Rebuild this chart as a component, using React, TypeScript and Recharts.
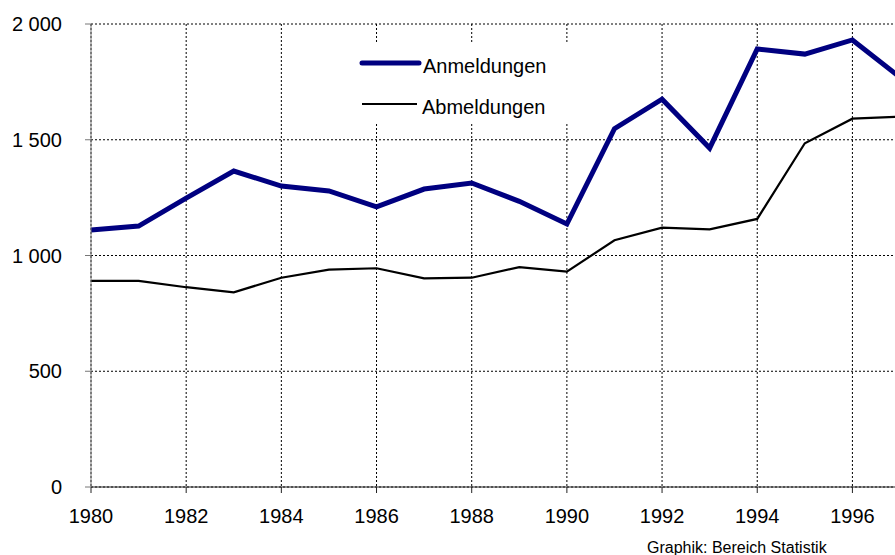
import { LineChart, Line, XAxis, YAxis, CartesianGrid } from 'recharts'

const years = [1980, 1981, 1982, 1983, 1984, 1985, 1986, 1987, 1988, 1989, 1990, 1991, 1992, 1993, 1994, 1995, 1996, 1997]
const anmeldungen = [1110, 1127, 1248, 1365, 1300, 1279, 1210, 1287, 1313, 1234, 1136, 1548, 1675, 1464, 1892, 1870, 1931, 1770]
const abmeldungen = [890, 890, 863, 841, 904, 939, 945, 901, 904, 950, 930, 1066, 1120, 1113, 1158, 1485, 1591, 1600]
const xTicks = [1980, 1982, 1984, 1986, 1988, 1990, 1992, 1994, 1996]
const yTicks = [0, 500, 1000, 1500, 2000]

const FONT = '"Liberation Sans", Arial, sans-serif'
const NAVY = '#000080'

const data = years.map((year, i) => ({
  year,
  anmeldungen: anmeldungen[i],
  abmeldungen: abmeldungen[i]
}))

// space as thousands separator, like "1 500"
const fmt = (v: number) => String(v).replace(/\B(?=(\d{3})+(?!\d))/g, ' ')

// legend drawn on a white box over the grid, as in the original
const LegendBox = () => (
  <div style={{ position: 'absolute', left: 340, top: 44, width: 260, height: 80, background: '#fff', fontFamily: FONT, fontSize: 20, color: '#000' }}>
    <svg width={260} height={80} style={{ position: 'absolute', left: 0, top: 0 }}>
      <line x1={22} y1={19} x2={79} y2={19} stroke={NAVY} strokeWidth={5} strokeLinecap="round" />
      <line x1={22} y1={60} x2={77} y2={60} stroke="#000" strokeWidth={2} />
    </svg>
    <span style={{ position: 'absolute', left: 83, top: 10, lineHeight: '24px' }}>Anmeldungen</span>
    <span style={{ position: 'absolute', left: 82, top: 51, lineHeight: '24px' }}>Abmeldungen</span>
  </div>
)

export default function App() {
  return (
    <div style={{ position: 'absolute', left: 0, top: 0, width: 895, height: 555, overflow: 'hidden', background: '#fff' }}>
      <LineChart width={900} height={555} data={data} margin={{ top: 24, right: 0, bottom: 8, left: 0 }}>
        <CartesianGrid stroke="#000" strokeDasharray="2 2" />
        <XAxis
          dataKey="year"
          type="number"
          domain={[1980, 1997]}
          ticks={xTicks}
          height={60}
          tickSize={6}
          tickMargin={16}
          stroke="#222"
          tick={{ fontSize: 20, fontFamily: FONT, fill: '#000' }}
        />
        <YAxis
          domain={[0, 2000]}
          ticks={yTicks}
          width={91}
          tickSize={6}
          tickMargin={23}
          stroke="#777"
          tickFormatter={fmt}
          tick={{ fontSize: 20, fontFamily: FONT, fill: '#000' }}
        />
        <Line dataKey="abmeldungen" stroke="#000" strokeWidth={2.2} dot={false} isAnimationActive={false} />
        <Line dataKey="anmeldungen" stroke={NAVY} strokeWidth={5} dot={false} isAnimationActive={false} />
      </LineChart>
      <LegendBox />
      <div style={{ position: 'absolute', left: 647, top: 539, fontFamily: FONT, fontSize: 16, color: '#000', whiteSpace: 'nowrap' }}>
        Graphik: Bereich Statistik
      </div>
    </div>
  )
}
